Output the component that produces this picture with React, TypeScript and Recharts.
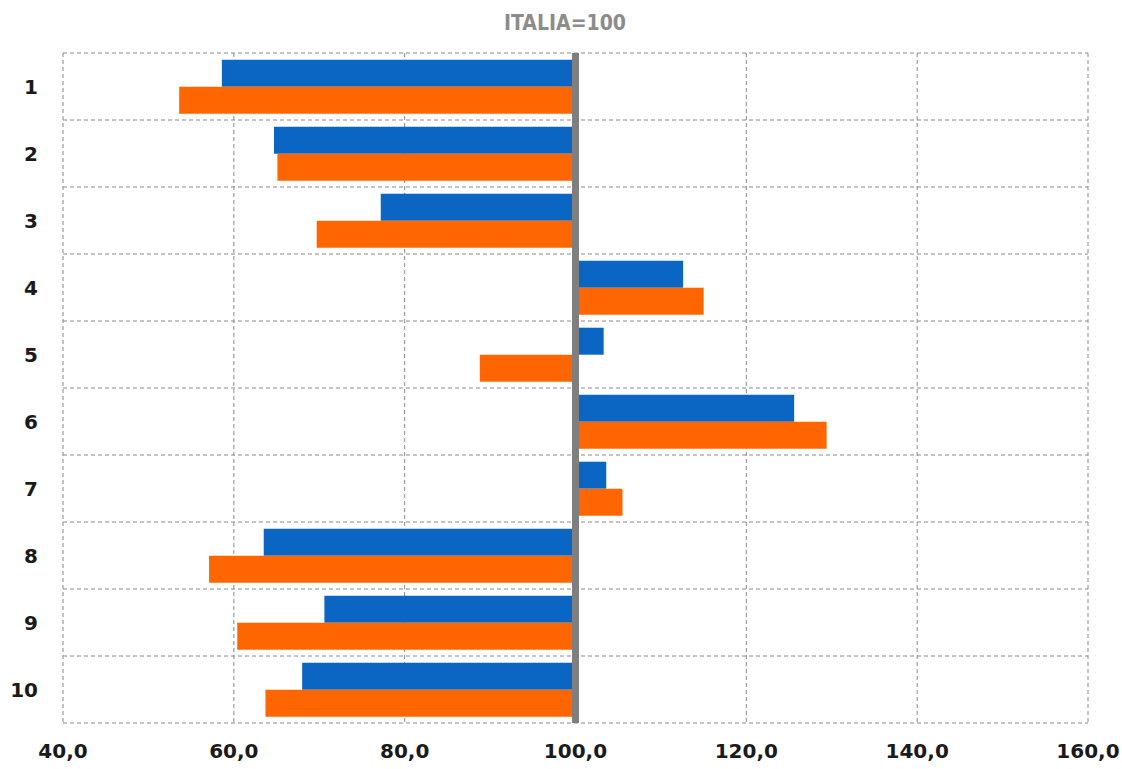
import { BarChart, Bar, XAxis, YAxis, CartesianGrid, ReferenceLine } from 'recharts';

const categories = ['1', '2', '3', '4', '5', '6', '7', '8', '9', '10'];
const blueValues = [58.6, 64.7, 77.2, 112.6, 103.3, 125.6, 103.6, 63.5, 70.6, 68.0];
const orangeValues = [53.6, 65.1, 69.7, 115.0, 88.8, 129.4, 105.5, 57.1, 60.4, 63.7];
const xTicks = [40, 60, 80, 100, 120, 140, 160];
const BASE = 100;

const data = categories.map((name, i) => ({
  name,
  blue: blueValues[i],
  orange: orangeValues[i],
}));

// bars grow from the Italy = 100 baseline
const fromBase = (v: number) => [Math.min(BASE, v), Math.max(BASE, v)];

const FONT = '"DejaVu Sans", Verdana, sans-serif';

export default function App() {
  return (
    <div style={{ position: 'absolute', left: 0, top: 0, width: 1122, height: 769, background: '#fff' }}>
      <div
        style={{
          position: 'absolute',
          left: 0,
          width: 1130,
          top: 11,
          textAlign: 'center',
          fontFamily: '"DejaVu Sans Condensed", "DejaVu Sans", sans-serif',
          fontWeight: 'bold',
          fontSize: 21,
          color: '#8c8c8c',
        }}
      >
        ITALIA=100
      </div>
      <BarChart
        width={1122}
        height={769}
        data={data}
        layout="vertical"
        margin={{ top: 53, right: 34, bottom: 0, left: 0 }}
        barCategoryGap="10%"
        barGap={0}
      >
        <CartesianGrid
          stroke="#8a8a8a"
          strokeDasharray="4 3"
          horizontalCoordinatesGenerator={({ offset }: any) =>
            categories.concat(['']).map((_, i) => offset.top + (i * offset.height) / categories.length)
          }
        />
        <XAxis
          type="number"
          domain={[40, 160]}
          ticks={xTicks}
          height={46}
          axisLine={false}
          tickLine={false}
          tickMargin={15}
          tickFormatter={(v: number) => v.toFixed(1).replace('.', ',')}
          tick={{ fontFamily: FONT, fontWeight: 'bold', fontSize: 20, fill: '#1a1a1a' }}
        />
        <YAxis
          type="category"
          dataKey="name"
          width={63}
          axisLine={false}
          tickLine={false}
          tickMargin={19}
          tick={{ fontFamily: FONT, fontWeight: 'bold', fontSize: 20, fill: '#1a1a1a' }}
        />
        <Bar dataKey={(d: any) => fromBase(d.blue)} fill="#0a66c2" isAnimationActive={false} />
        <Bar dataKey={(d: any) => fromBase(d.orange)} fill="#ff6600" isAnimationActive={false} />
        <ReferenceLine x={BASE} stroke="#7f7f7f" strokeWidth={7} />
      </BarChart>
    </div>
  );
}
